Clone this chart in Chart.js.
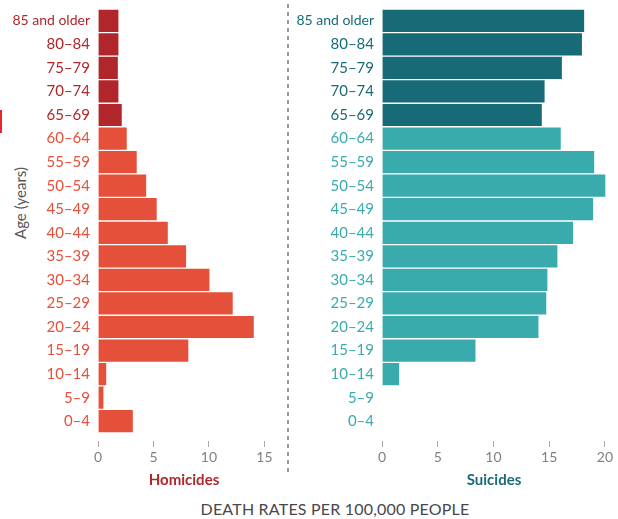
<!DOCTYPE html>
<html>
<head>
<meta charset="utf-8">
<script src="https://cdn.jsdelivr.net/npm/chart.js@4"></script>
<style>
  body { margin: 0; background: #fff; width: 618px; height: 519px; position: relative; overflow: hidden; font-family: Lato, sans-serif; }
  .box { position: absolute; top: 0; height: 495px; }
  #leftBox { left: 0; width: 288px; }
  #rightBox { left: 288px; width: 330px; }
  #divider { position: absolute; left: 287px; top: 4px; width: 2px; height: 468px;
    background: repeating-linear-gradient(to bottom, #9a9a9a 0 4px, transparent 4px 8px); }
  #ageLabel { position: absolute; left: 20px; top: 203px; transform: translate(-50%, -50%) rotate(-90deg);
    font-size: 15px; color: #555; white-space: nowrap; }
  #mark { position: absolute; left: 0; top: 110px; width: 2px; height: 23px; background: #e8262a; }
  #footer { position: absolute; left: 335px; top: 508px; transform: translate(-50%, -50%);
    font-size: 16px; color: #484848; letter-spacing: 0.2px; white-space: nowrap; }
</style>
</head>
<body>
<div id="mark"></div>
<div id="ageLabel">Age (years)</div>
<div class="box" id="leftBox"><canvas id="homicides"></canvas></div>
<div id="divider"></div>
<div class="box" id="rightBox"><canvas id="suicides"></canvas></div>
<div id="footer">DEATH RATES PER 100,000 PEOPLE</div>
<script>
// age groups, top to bottom
const AGES = ['85 and older', '80–84', '75–79', '70–74', '65–69', '60–64', '55–59', '50–54',
  '45–49', '40–44', '35–39', '30–34', '25–29', '20–24', '15–19', '10–14', '5–9', '0–4'];
const HOMICIDES = [1.9, 1.9, 1.85, 1.9, 2.2, 2.65, 3.55, 4.4, 5.35, 6.35, 8.0, 10.1, 12.2, 14.1, 8.2, 0.8, 0.55, 3.2];
const SUICIDES = [18.2, 18.0, 16.2, 14.65, 14.4, 16.1, 19.1, 20.1, 19.0, 17.2, 15.8, 14.9, 14.8, 14.1, 8.45, 1.6, 0, 0];
const HOM_TICKS = [0, 5, 10, 15];
const SUI_TICKS = [0, 5, 10, 15, 20];
const OLDER = 5; // first five groups are 65+

function makeChart(id, values, ticks, max, title, dark, light, axisWidth, padRight) {
    const pick = (i) => (i < OLDER ? dark : light);
    return new Chart(document.getElementById(id).getContext('2d'), {
        type: 'bar',
        data: {
            labels: AGES,
            datasets: [{
                data: values,
                backgroundColor: (c) => pick(c.dataIndex),
                borderColor: 'rgba(255,255,255,0.85)',
                borderWidth: 1,
                categoryPercentage: 1,
                barPercentage: 1
            }]
        },
        options: {
            indexAxis: 'y',
            responsive: true,
            maintainAspectRatio: false,
            animation: false,
            layout: { padding: { top: 0, bottom: 2, left: 0, right: padRight } },
            plugins: { legend: { display: false }, tooltip: { enabled: false } },
            scales: {
                x: {
                    min: 0,
                    max: max,
                    afterBuildTicks: (s) => { s.ticks = ticks.map((v) => ({ value: v })); },
                    afterFit: (s) => { s.height = 60; },
                    border: { display: false },
                    grid: {
                        drawOnChartArea: false,
                        drawTicks: true,
                        tickLength: 14,
                        tickColor: '#aaa',
                        tickBorderDash: [0, 8, 6, 0]
                    },
                    ticks: { color: '#808080', font: { family: 'Lato', size: 14 }, padding: 2, maxRotation: 0 },
                    title: {
                        display: true,
                        text: title,
                        color: dark,
                        font: { family: 'Lato', size: 15, weight: 'bold' },
                        padding: { top: 3, bottom: 4 }
                    }
                },
                y: {
                    afterFit: (s) => { s.width = axisWidth; },
                    border: { display: false },
                    // no lines drawn, tick length only spaces labels from bars
                    grid: { display: false, drawTicks: true, tickLength: 8 },
                    ticks: {
                        color: (c) => pick(c.index),
                        font: (c) => ({ family: 'Lato', size: c.index === 0 ? 14 : 15 }),
                        padding: 0,
                        autoSkip: false
                    }
                }
            }
        }
    });
}

makeChart('homicides', HOMICIDES, HOM_TICKS, 15.5, 'Homicides', '#b0262a', '#e4503a', 98, 18);
makeChart('suicides', SUICIDES, SUI_TICKS, 20.1, 'Suicides', '#176b77', '#3aabad', 94, 12);
</script>
</body>
</html>
